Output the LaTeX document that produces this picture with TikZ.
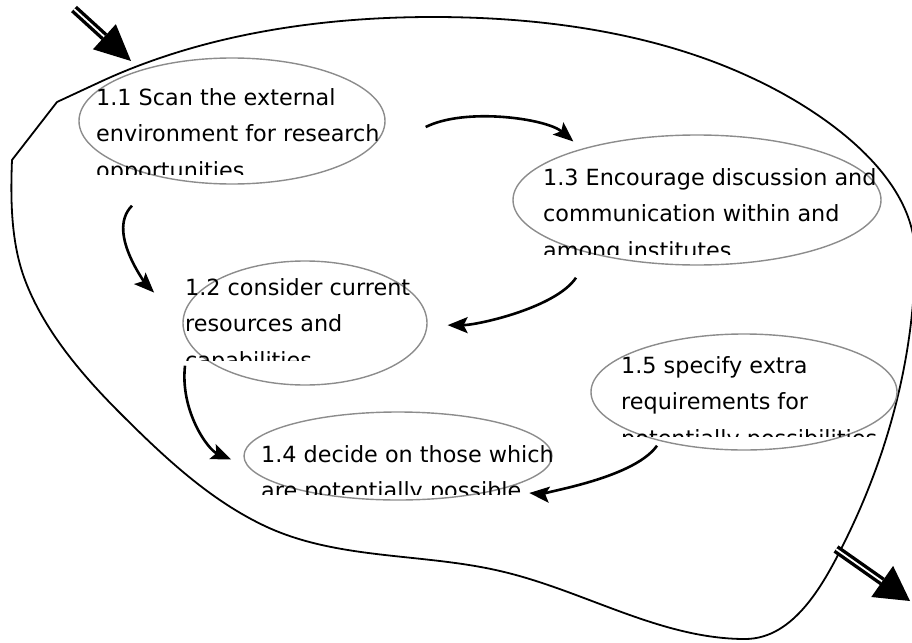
\documentclass[tikz,border=0pt]{standalone}
\usepackage{fontspec}
\setmainfont{DejaVu Sans}
\usetikzlibrary{arrows.meta,shapes.geometric,calc}

\tikzset{
  stage/.style={ellipse, draw=black!45, line width=1.4pt, inner sep=0pt},
  stagetext/.style={anchor=base west, inner sep=0pt, font=\fontsize{22.3}{36.5}\selectfont},
  flow/.style={-{Stealth[length=20pt,width=16pt,inset=4pt]}, line width=2.6pt},
  bigflow/.style={double=white, line width=3.4pt, double distance=1.8pt},
  boundary/.style={line width=1.8pt, line join=round},
}

\begin{document}
\begin{tikzpicture}[x=1pt,y=-1pt]
    \useasboundingbox (0,0) rectangle (912,642);
    \clip (0,0) rectangle (912,642);

    % Boundary of the whole stage
    \draw[boundary] (12,160) -- (57,102) -- (100,82)
        .. controls (202.5,34.3) and (320,17) .. (433,17)
        .. controls (540,17) and (653,32) .. (750,77)
        .. controls (823,110.5) and (915,175) .. (915,255)
        .. controls (915,352) and (889.5,450) .. (847,537)
        .. controls (825,582) and (795,639) .. (745,639)
        .. controls (660,639) and (583,590) .. (500,571)
        .. controls (423,553) and (339,560) .. (267,527)
        .. controls (210.6,501) and (164,457) .. (120,413)
        .. controls (82,375) and (44,330.5) .. (25,280)
        .. controls (11,243) and (10.4,200) .. (12,160) -- cycle;

    % Stages
    \node[stage, minimum width=306pt, minimum height=126pt] (e11) at (232,121) {};
    \node[stage, minimum width=244pt, minimum height=124pt] (e12) at (305,323) {};
    \node[stage, minimum width=368pt, minimum height=130pt] (e13) at (697,200) {};
    \node[stage, minimum width=308pt, minimum height=88pt] (e14) at (398,456) {};
    \node[stage, minimum width=306pt, minimum height=116pt] (e15) at (744,392) {};

    % Texts, cut off at the bottom
    \begin{scope}
        \clip (0,0) rectangle (912,174);
        \node[stagetext] (t11) at (96,105) {\parbox[t]{400pt}{1.1 Scan the external\\environment for research\\opportunities}};
    \end{scope}
    \begin{scope}
        \clip (0,0) rectangle (912,360);
        \node[stagetext] (t12) at (185,295) {\parbox[t]{400pt}{1.2 consider current\\resources and\\capabilities}};
    \end{scope}
    \begin{scope}
        \clip (0,0) rectangle (912,254);
        \node[stagetext] (t13) at (543,185) {\parbox[t]{400pt}{1.3 Encourage discussion and\\communication within and\\among institutes}};
    \end{scope}
    \begin{scope}
        \clip (0,0) rectangle (912,494);
        \node[stagetext] (t14) at (261,462) {\parbox[t]{400pt}{1.4 decide on those which\\are potentially possible}};
    \end{scope}
    \begin{scope}
        \clip (0,0) rectangle (912,436);
        \node[stagetext] (t15) at (621,373) {\parbox[t]{400pt}{1.5 specify extra\\requirements for\\potentially possibilities}};
    \end{scope}

    % Flows between stages
    \coordinate (e11r) at ([shift={(40,6)}]e11.east);
    \coordinate (e11b) at ([shift={(-100,21)}]e11.south);
    \coordinate (e13b) at ([shift={(-121,12)}]e13.south);
    \coordinate (e12b) at ([shift={(-120,-20)}]e12.south);
    \coordinate (e15b) at ([shift={(-87,-5)}]e15.south);

    \draw[flow, shorten >=11pt] (e11r) .. controls +(40,-20) and +(-35,-30) .. (e13.156);
    \draw[flow, shorten >=40pt] (e11b) .. controls +(-28,28) and +(-30,-30) .. (e12.179);
    \draw[flow, shorten >=20pt] (e13b) .. controls +(-20,30) and +(50,0) .. (e12.-1);
    \draw[flow, shorten >=18pt] (e12b) .. controls +(-5,45) and +(-40,-17) .. (e14.184);
    \draw[flow, shorten >=32pt] (e15b) .. controls +(-25,35) and +(35,3) .. (e14.-19.5);

    % Input arrow
    \coordinate (inS) at (74,9);
    \coordinate (inT) at (131,61);
    \coordinate (inB) at ($(inT)!36pt!(inS)$);
    \draw[bigflow] (inS) -- (inB);
    \fill (inT) -- ($(inB)!17pt!90:(inT)$) -- ($(inB)!17pt!-90:(inT)$) -- cycle;

    % Output arrow
    \coordinate (outS) at (836,549);
    \coordinate (outT) at (910,601);
    \coordinate (outB) at ($(outT)!34pt!(outS)$);
    \draw[bigflow] (outS) -- (outB);
    \fill (outT) -- ($(outB)!19pt!90:(outT)$) -- ($(outB)!19pt!-90:(outT)$) -- cycle;
\end{tikzpicture}
\end{document}
